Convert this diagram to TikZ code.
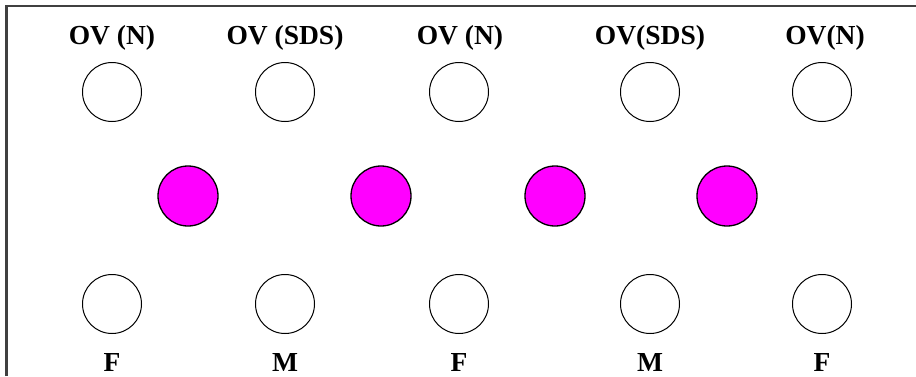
\documentclass[tikz,border=0pt]{standalone}
\usepackage{fontspec}
\setmainfont{Liberation Serif}
\definecolor{cellpink}{RGB}{255,0,255}
\definecolor{framegray}{RGB}{64,64,64}
\begin{document}
\begin{tikzpicture}[x=1pt,y=-1pt,
  label text/.style={font=\fontsize{27.5}{31}\selectfont\bfseries, inner sep=0pt, anchor=center},
  empty cell/.style={circle, draw=black, line width=1pt, minimum size=59pt, inner sep=0pt},
  full cell/.style={circle, draw=black, line width=1.3pt, fill=cellpink, minimum size=60pt, inner sep=0pt},
  frame line/.style={draw=framegray, line width=2.5pt}]
  \useasboundingbox (0,0) rectangle (916,376);
  % frame: only the top and left edges are in view
  \coordinate (fbl) at (6.5,376);
  \coordinate (ftl) at (6.5,6);
  \coordinate (ftr) at (916,6);
  \draw[frame line] (fbl) -- (ftl) -- (ftr);

  % top row
  \node[label text] (t1) at (112,38) {OV (N)};
  \node[label text] (t2) at (285,38) {OV (SDS)};
  \node[label text] (t3) at (460,38) {OV (N)};
  \node[label text] (t4) at (650,38) {OV(SDS)};
  \node[label text] (t5) at (825,38) {OV(N)};
  \node[empty cell] (a1) at (112,92) {};
  \node[empty cell] (a2) at (285,92) {};
  \node[empty cell] (a3) at (459,92) {};
  \node[empty cell] (a4) at (650,92) {};
  \node[empty cell] (a5) at (822,92) {};

  % middle row
  \node[full cell] (m1) at (188,196) {};
  \node[full cell] (m2) at (381,196) {};
  \node[full cell] (m3) at (555,196) {};
  \node[full cell] (m4) at (727,196) {};

  % bottom row
  \node[empty cell] (b1) at (112,304) {};
  \node[empty cell] (b2) at (285,304) {};
  \node[empty cell] (b3) at (459,304) {};
  \node[empty cell] (b4) at (650,304) {};
  \node[empty cell] (b5) at (822,304) {};
  \node[label text] (l1) at (112,362) {F};
  \node[label text] (l2) at (285,362) {M};
  \node[label text] (l3) at (459,362) {F};
  \node[label text] (l4) at (650,362) {M};
  \node[label text] (l5) at (822,362) {F};
\end{tikzpicture}
\end{document}
